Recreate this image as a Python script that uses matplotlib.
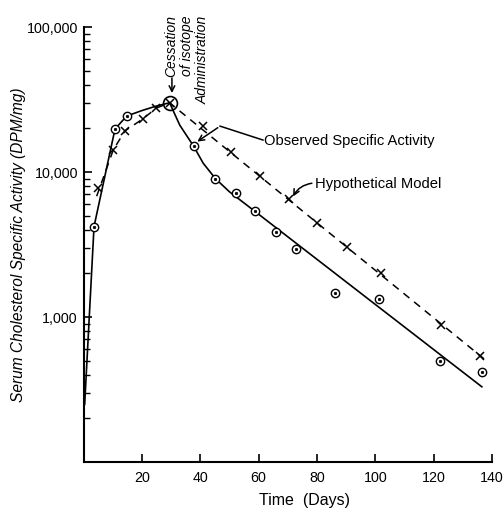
import matplotlib
matplotlib.use("Agg")
import matplotlib.pyplot as plt
import numpy as np

plt.rcParams['font.family'] = ['Liberation Sans', 'DejaVu Sans']

# observed specific activity (circles)
obs_days = [3.6, 10.8, 14.8, 37.7, 45.2, 52.4, 58.9, 66.0, 72.9, 86.2, 101.2, 122.0, 136.4]
obs_activity = [4200, 19800, 24300, 15100, 8950, 7170, 5380, 3860, 2940, 1465, 1330, 497, 418]

# hypothetical model (x marks)
model_days = [5.0, 10.2, 14.2, 20.3, 25.0, 40.8, 50.6, 60.6, 70.5, 80.0, 90.3, 101.8, 122.4, 136.0]
model_activity = [7760, 14200, 19200, 23200, 27600, 20800, 13700, 9380, 6510, 4450, 3040, 2010, 880, 538]

# cessation of isotope administration
peak_day = 29.5
peak_activity = 30000

# drawn curves
obs_curve_days = [0.4, 3.6, 10.8, 14.8, 20.0, 25.0, 29.5, 33.0, 37.7, 41.0, 45.2, 50.0, 56.0, 136.5]
obs_curve_activity = [250, 4200, 19800, 24300, 26500, 28500, 30000, 21000, 15100, 11500, 9000, 7300, 5900, 330]
model_curve_days = [4.5, 10.2, 14.2, 20.3, 25.0, 29.5, 138.0]
model_curve_activity = [6800, 14200, 19200, 23200, 27600, 30000, 500]

x_ticks = [20, 40, 60, 80, 100, 120, 140]
y_ticks = [1000, 10000, 100000]
y_tick_labels = ["1,000", "10,000", "100,000"]

fig = plt.figure(figsize=(5.04, 5.10), dpi=100)
ax = fig.add_axes([0.1657, 0.0922, 0.8106, 0.853])

ax.plot(obs_curve_days, obs_curve_activity, color="black", lw=1.2)
ax.plot(model_curve_days, model_curve_activity, color="black", lw=1.1, ls=(0, (5, 4)))

ax.plot(obs_days, obs_activity, ls="none", marker="o", ms=6, mfc="white", mec="black", mew=1.0)
ax.plot(obs_days, obs_activity, ls="none", marker="o", ms=1.8, mfc="black", mec="black", mew=0.5)
ax.plot(model_days, model_activity, ls="none", marker="x", ms=5.5, mec="black", mew=1.1)
ax.plot([peak_day], [peak_activity], ls="none", marker="o", ms=10, mfc="none", mec="black", mew=1.2)
ax.plot([peak_day], [peak_activity], ls="none", marker="x", ms=6, mec="black", mew=1.1)

ax.set_yscale("log")
ax.set_xlim(0, 140)
ax.set_ylim(100, 100000)
ax.set_xticks(x_ticks)
ax.set_xticks([], minor=True)
ax.set_yticks(y_ticks)
ax.set_yticklabels(y_tick_labels)

for side in ["top", "right"]:
    ax.spines[side].set_visible(False)
for side in ["left", "bottom"]:
    ax.spines[side].set_linewidth(1.5)

ax.tick_params(which="major", direction="in", length=6, width=1.2, labelsize=10.3, pad=4)
ax.tick_params(axis="y", which="minor", direction="in", length=4, width=1.0)
ax.tick_params(axis="x", pad=6)

fig.text(0.036, 0.52, "Serum Cholesterol Specific Activity (DPM/mg)", rotation=90,
         ha="center", va="center", style="italic", fontsize=11.2)
fig.text(0.605, 0.018, "Time  (Days)", ha="center", va="center", fontsize=11.5)

# annotations
ax.text(27.6, 122000, "Cessation\nof isotope\nAdministration", rotation=90,
        ha="left", va="top", multialignment="right", style="italic",
        fontsize=10, linespacing=1.15)
ax.annotate("", xy=(30.3, 33500), xytext=(30.3, 46500),
            arrowprops=dict(arrowstyle="->", color="black", lw=1.1))

ax.plot([61.5, 46.8], [16600, 20700], color="black", lw=1.1)
ax.annotate("", xy=(38.2, 15800), xytext=(46.8, 20700),
            arrowprops=dict(arrowstyle="->", color="black", lw=1.1))
ax.text(61.9, 16600, "Observed Specific Activity", ha="left", va="center", fontsize=10.6)

ax.annotate("", xy=(71.4, 6520), xytext=(79.2, 8400),
            arrowprops=dict(arrowstyle="->", color="black", lw=1.1,
                            connectionstyle="arc3,rad=0.3"))
ax.text(79.4, 8400, "Hypothetical Model", ha="left", va="center", fontsize=10.6)

fig.savefig("out.png", dpi=100)
